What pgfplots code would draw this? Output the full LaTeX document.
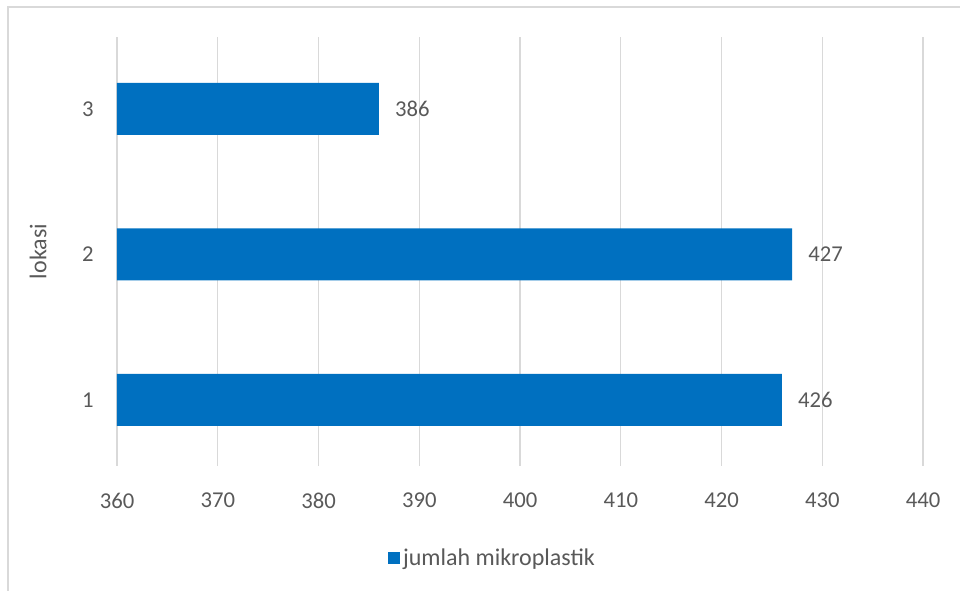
\documentclass[border=0pt]{standalone}
\usepackage{pgfplots}
\pgfplotsset{compat=1.18}
\usepackage{fontspec}
\setmainfont{Carlito}
\definecolor{barblue}{HTML}{0070C0}
\definecolor{txt}{HTML}{595959}
\definecolor{gridc}{HTML}{D9D9D9}
\begin{document}
\begin{tikzpicture}
\useasboundingbox (0,0) rectangle (720pt,443.25pt);
\draw[gridc, line width=0.9pt] (6pt,-20pt) -- (6pt,438pt) -- (740pt,438pt);
\begin{axis}[
  at={(87.75pt,93.75pt)}, anchor=south west,
  scale only axis, width=604.5pt, height=321.75pt,
  xbar, bar width=39pt,
  xmin=360, xmax=440, ymin=0.545, ymax=3.495,
  xtick={360,370,...,440}, ytick={1,2,3},
  xmajorgrids, grid style={gridc, line width=0.9pt},
  axis line style={draw=none}, tick style={draw=none},
  font=\fontsize{17}{20}\selectfont,
  /pgf/number format/assume math mode=true,
  ticklabel style={text=txt, font=\fontsize{17}{20}\selectfont},
  xticklabel style={inner sep=0pt, anchor=north, yshift=-20pt},
  yticklabel style={inner sep=0pt, anchor=east, xshift=-13pt},
  ylabel={lokasi}, ylabel style={text=txt, at={(axis description cs:-0.098,0.5)}, anchor=center, font=\fontsize{18}{20}\selectfont},
  nodes near coords, nodes near coords style={anchor=west, inner sep=0pt, xshift=12pt, text=txt, font=\fontsize{17}{20}\selectfont},
  legend style={draw=none, at={(axis description cs:0.4665,-0.2145)}, anchor=center, font=\fontsize{18}{20}\selectfont, text=txt},
  legend image code/.code={\fill[barblue] (0pt,-4.5pt) rectangle (9pt,4.5pt);},
]
\addplot[fill=barblue, draw=none] coordinates {(426,1) (427,2) (386,3)};
\addlegendentry{jumlah mikroplastik}
\end{axis}
\end{tikzpicture}
\end{document}
